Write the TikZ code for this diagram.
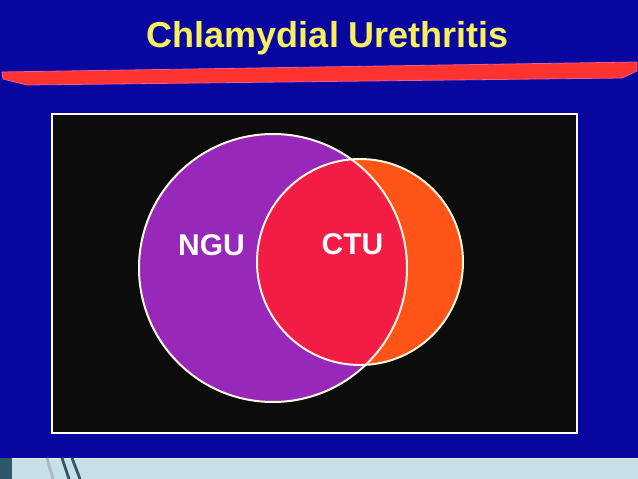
\documentclass[tikz,border=0pt]{standalone}
\usepackage{fontspec}
\setmainfont{Liberation Sans}
\definecolor{bgblue}{RGB}{8,8,160}
\definecolor{panel}{RGB}{12,12,12}
\definecolor{ngucol}{RGB}{152,40,186}
\definecolor{ctucol}{RGB}{242,28,68}
\definecolor{orangecol}{RGB}{255,84,24}
\definecolor{rimcol}{RGB}{255,248,225}
\definecolor{barred}{RGB}{255,52,48}
\definecolor{barpink}{RGB}{240,90,150}
\definecolor{titleyellow}{RGB}{248,240,90}
\definecolor{stripcol}{RGB}{200,223,230}
\definecolor{darksq}{RGB}{45,88,104}
\definecolor{lightline}{RGB}{170,185,192}
\tikzset{
  rim/.style={draw=rimcol, line width=2pt},
  label/.style={text=white, font=\bfseries\fontsize{30}{30}\selectfont, anchor=base, inner sep=0pt},
  titletext/.style={text=titleyellow, font=\bfseries\fontsize{36}{36}\selectfont, anchor=base, inner sep=0pt},
  slash/.style={line width=2.8pt}
}
\begin{document}
\begin{tikzpicture}[x=1pt,y=-1pt]
\useasboundingbox (0,0) rectangle (638,479);
\fill[bgblue] (0,0) rectangle (638,479);
% title
\node[titletext] (title) at (328,47) {Chlamydial Urethritis};
% red bar
\fill[barred, draw=barpink, line width=0.8pt] (2,72) -- (3,79) -- (27,85) -- (622,78) -- (637,71) -- (637,62) -- cycle;
% panel
\fill[panel] (52,114) rectangle (577,433);
\draw[white, line width=2pt] (52,114) rectangle (577,433);
% venn
\coordinate (cn) at (273,268);
\coordinate (cc) at (360,262);
\fill[ngucol] (cn) circle[radius=134];
\fill[orangecol] (cc) circle[radius=103];
\begin{scope}
  \clip (cn) circle[radius=134];
  \fill[ctucol] (cc) circle[radius=103];
\end{scope}
\draw[rim] (cn) circle[radius=134];
\draw[rim] (cc) circle[radius=103];
\node[label] (ngu) at (211.5,255) {NGU};
\node[label] (ctu) at (352.5,254) {CTU};
% bottom strip
\fill[stripcol] (0,458) rectangle (638,479);
\draw[rimcol!60!stripcol, line width=0.6pt] (0,458) -- (638,458);
\fill[darksq] (0,458) rectangle (12,479);
\coordinate (l1a) at (47,458); \coordinate (l1b) at (53,479);
\coordinate (l2a) at (62,458); \coordinate (l2b) at (69,479);
\coordinate (l3a) at (72,458); \coordinate (l3b) at (80,479);
\draw[slash, lightline] (l1a) -- (l1b);
\draw[slash, darksq] (l2a) -- (l2b);
\draw[slash, darksq] (l3a) -- (l3b);
\end{tikzpicture}
\end{document}
